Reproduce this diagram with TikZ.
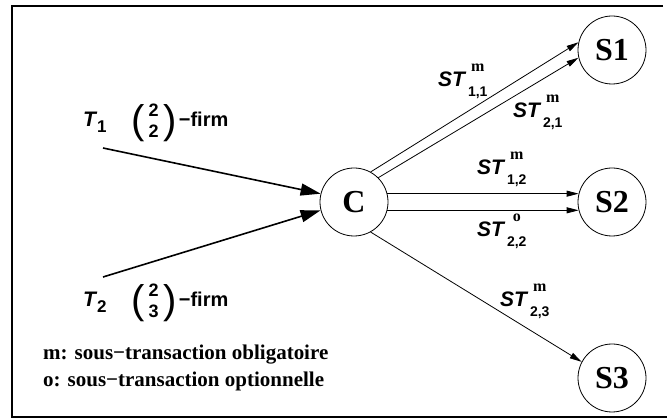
\documentclass[tikz,border=0pt]{standalone}
\usepackage{fontspec}
\setmainfont{Liberation Serif}
\setsansfont{Liberation Sans}
\usetikzlibrary{arrows.meta}

% font size shortcut (sizes in pt, one pt per drawing unit)
\newcommand\fsz[1]{\fontsize{#1}{#1}\selectfont}

% sub-transaction label: ST with a stacked superscript (#1) and subscript (#2)
\newcommand\stlab[2]{%
  {\sffamily\bfseries\itshape\fsz{21}ST}\kern3pt
  \setbox0\hbox{\sffamily\bfseries\fsz{14}#2}%
  \setbox2\hbox{\rmfamily\bfseries\fsz{16}#1}%
  \raisebox{-10pt}{\copy0}\kern-\wd0
  \hbox to \wd0{\hss\raisebox{15pt}{\box2}\hss}}

% transaction name T with its index
\newcommand\tlab[1]{%
  {\sffamily\bfseries\itshape\fsz{21}T}\kern1pt
  \raisebox{-6pt}{\sffamily\bfseries\fsz{17}#1}}

% (m over k)-firm constraint
\newcommand\firmlab[2]{%
  \raisebox{-6.5pt}{\sffamily\fsz{40}(}\kern4pt
  \raisebox{-11pt}{\sffamily\bfseries\fontsize{18}{21}\selectfont
    \begin{tabular}[b]{@{}c@{}}#1\\#2\end{tabular}}\kern5pt
  \raisebox{-6.5pt}{\sffamily\fsz{40})}\kern2pt
  {\sffamily\bfseries\fsz{20}−firm}}

\tikzset{
  site/.style={circle, draw, line width=0.8pt, minimum size=68pt, inner sep=0pt,
    font=\rmfamily\bfseries\fsz{32}},
  flow/.style={line width=0.8pt, -{Triangle[length=12pt, width=6pt]}},
  input/.style={line width=1.6pt, -{Triangle[length=20pt, width=12pt]}},
  lab/.style={inner sep=0pt, anchor=base west},
  legend/.style={inner sep=0pt, anchor=base west, font=\rmfamily\bfseries\fsz{21}},
}

\begin{document}
\begin{tikzpicture}[x=1pt, y=-1pt]
  \useasboundingbox (0,0) rectangle (667,419);

  % frame
  \draw[line width=2pt] (663,6) -- (12,6) -- (12,417) -- (667,417);

  % coordinator and sites
  \node[site] (C)  at (354,202) {C};
  \node[site] (S1) at (612,50)  {S1};
  \node[site] (S2) at (612,202) {S2};
  \node[site] (S3) at (612,378) {S3};

  % incoming transactions
  \coordinate (t1) at (103,148);
  \coordinate (t2) at (103,277);
  \draw[input] (t1) -- (C.166);
  \draw[input] (t2) -- (C.194);

  \node[lab] (T1) at (83,127) {\tlab{1}};
  \node[lab] (F1) at (131,127) {\firmlab{2}{2}};
  \node[lab] (T2) at (83,307) {\tlab{2}};
  \node[lab] (F2) at (131,307) {\firmlab{2}{3}};

  % sub-transactions
  \draw[flow] (C.61)  -- (S1.167);
  \draw[flow] (C.45)  -- (S1.193);
  \draw[flow] (C.14)  -- (S2.166);
  \draw[flow] (C.-14) -- (S2.194);
  \draw[flow] (C.-61) -- (S3.152);

  \node[lab] (st11) at (438,87)  {\stlab{m}{1,1}};
  \node[lab] (st21) at (513,118) {\stlab{m}{2,1}};
  \node[lab] (st12) at (477,175) {\stlab{m}{1,2}};
  \node[lab] (st22) at (477,237) {\stlab{o}{2,2}};
  \node[lab] (st23) at (500,307) {\stlab{m}{2,3}};

  % legend
  \node[legend] (lm) at (43,360) {m: sous−transaction obligatoire};
  \node[legend] (lo) at (43,387) {o: sous−transaction optionnelle};
\end{tikzpicture}
\end{document}
